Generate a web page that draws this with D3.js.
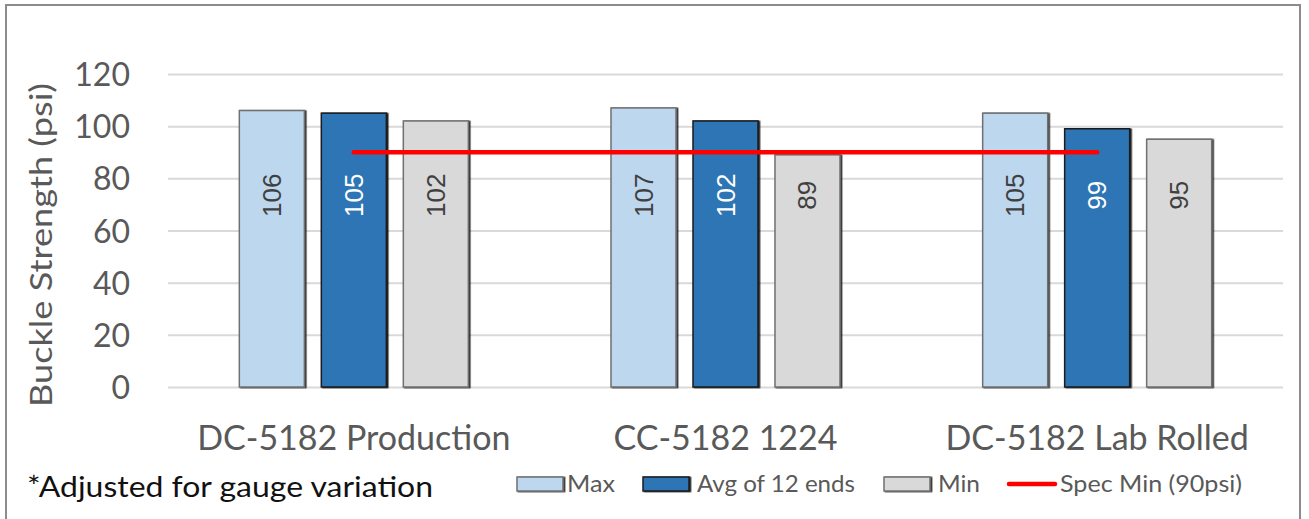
<!DOCTYPE html>
<html>
<head>
<meta charset="utf-8">
<script src="https://cdn.jsdelivr.net/npm/d3@7"></script>
<style>
  body { margin: 0; background: #fff; }
  svg text { font-family: Lato, "Open Sans", sans-serif; }
</style>
</head>
<body>
<svg id="chart" width="1309" height="519"></svg>
<script>
// chart data
const categories = ["DC-5182 Production", "CC-5182 1224", "DC-5182 Lab Rolled"];
const seriesNames = ["Max", "Avg of 12 ends", "Min"];
const maxValues = [106, 107, 105];
const avgValues = [105, 102, 99];
const minValues = [102, 89, 95];
const specMin = 90;
const specLabel = "Spec Min (90psi)";
const yTicks = [0, 20, 40, 60, 80, 100, 120];

const svg = d3.select("#chart");
const width = 1309, height = 519;
const margin = { top: 74, right: 26, bottom: 132, left: 168 };

// colors per series
const fills = ["#bdd7ee", "#2e75b6", "#d9d9d9"];
const strokes = ["#6f6f6f", "#1a1a1a", "#6f6f6f"];
const labelColors = ["#404040", "#ffffff", "#404040"];

// drop shadow used on the bars
const defs = svg.append("defs");
const filt = defs.append("filter").attr("id", "shadow")
    .attr("x", "-10%").attr("y", "-10%").attr("width", "130%").attr("height", "130%");
filt.append("feDropShadow").attr("dx", 1.5).attr("dy", 0.5)
    .attr("stdDeviation", 0.4).attr("flood-color", "#000").attr("flood-opacity", 0.85);

// outer border
svg.append("rect")
    .attr("x", 6).attr("y", 5).attr("width", 1294).attr("height", 540)
    .attr("fill", "none").attr("stroke", "#8c8c8c").attr("stroke-width", 2);

const x0 = d3.scaleBand().domain(categories).range([margin.left, width - margin.right]);
const x1 = d3.scaleBand().domain(seriesNames).range([0, x0.bandwidth()])
    .paddingInner(0.207).paddingOuter(0.87);
const y = d3.scaleLinear().domain([0, 120]).range([height - margin.bottom, margin.top]);

// gridlines + y axis labels
const yAxis = svg.append("g")
    .attr("transform", `translate(${margin.left},0)`)
    .call(d3.axisLeft(y).tickValues(yTicks).tickSize(-(width - margin.left - margin.right)).tickPadding(38));
yAxis.select(".domain").remove();
yAxis.selectAll(".tick line").attr("stroke", "#d9d9d9").attr("stroke-width", 2);
yAxis.selectAll(".tick text")
    .attr("fill", "#595959").attr("font-size", 32).attr("dy", "0.36em")
    .style("font-family", "Lato, sans-serif");

// y axis title
svg.append("text")
    .attr("transform", `translate(52,${245}) rotate(-90)`)
    .attr("text-anchor", "middle")
    .attr("fill", "#595959").attr("font-size", 30)
    .attr("textLength", 324).attr("lengthAdjust", "spacingAndGlyphs")
    .text("Buckle Strength (psi)");

// category labels
svg.selectAll(".cat")
    .data(categories)
    .join("text")
    .attr("class", "cat")
    .attr("x", d => x0(d) + x0.bandwidth() / 2)
    .attr("y", 450)
    .attr("text-anchor", "middle")
    .attr("fill", "#595959").attr("font-size", 34)
    .text(d => d);

// bars
const table = categories.map((c, i) => ({
    cat: c,
    vals: [maxValues[i], avgValues[i], minValues[i]]
}));

const groups = svg.selectAll(".grp")
    .data(table)
    .join("g")
    .attr("class", "grp")
    .attr("transform", d => `translate(${x0(d.cat)},0)`);

groups.selectAll("rect")
    .data(d => d.vals.map((v, j) => ({ s: seriesNames[j], j: j, v: v })))
    .join("rect")
    .attr("x", d => x1(d.s))
    .attr("y", d => y(d.v))
    .attr("width", x1.bandwidth())
    .attr("height", d => y(0) - y(d.v))
    .attr("fill", d => fills[d.j])
    .attr("stroke", d => strokes[d.j])
    .attr("stroke-width", 1.5)
    .attr("filter", "url(#shadow)");

// value labels, rotated, inside bars
groups.selectAll(".val")
    .data(d => d.vals.map((v, j) => ({ s: seriesNames[j], j: j, v: v })))
    .join("text")
    .attr("class", "val")
    .attr("transform", d => `translate(${x1(d.s) + x1.bandwidth() / 2 + 9},${y(73.5)}) rotate(-90)`)
    .attr("text-anchor", "middle")
    .attr("fill", d => labelColors[d.j])
    .attr("font-size", 26)
    .style("font-family", "'Liberation Sans', Arial, sans-serif")
    .text(d => d.v);

// spec min line from first avg bar center to last avg bar center
const avgName = seriesNames[1];
const xStart = x0(categories[0]) + x1(avgName) + x1.bandwidth() / 2;
const xEnd = x0(categories[categories.length - 1]) + x1(avgName) + x1.bandwidth() / 2;
svg.append("line")
    .attr("x1", xStart).attr("x2", xEnd)
    .attr("y1", y(specMin)).attr("y2", y(specMin))
    .attr("stroke", "#ff0000").attr("stroke-width", 4.5)
    .attr("stroke-linecap", "round");

// footnote
svg.append("text")
    .attr("x", 27).attr("y", 497)
    .attr("fill", "#111").attr("font-size", 29)
    .attr("textLength", 406).attr("lengthAdjust", "spacingAndGlyphs")
    .text("*Adjusted for gauge variation");

// legend
const legendItems = [
    { type: "box", j: 0, name: seriesNames[0], sx: 517, tx: 567, tw: 48 },
    { type: "box", j: 1, name: seriesNames[1], sx: 643, tx: 697, tw: 158 },
    { type: "box", j: 2, name: seriesNames[2], sx: 884, tx: 938, tw: 42 },
    { type: "line", name: specLabel, sx: 1007, tx: 1060, tw: 182 }
];
const legend = svg.append("g");
legendItems.forEach(d => {
    if (d.type === "box") {
        legend.append("rect")
            .attr("x", d.sx).attr("y", 477).attr("width", 46).attr("height", 14)
            .attr("fill", fills[d.j]).attr("stroke", strokes[d.j]).attr("stroke-width", 1.5)
            .attr("filter", "url(#shadow)");
    } else {
        legend.append("line")
            .attr("x1", d.sx + 2).attr("x2", d.sx + 48)
            .attr("y1", 484).attr("y2", 484)
            .attr("stroke", "#ff0000").attr("stroke-width", 4.5).attr("stroke-linecap", "round");
    }
    legend.append("text")
        .attr("x", d.tx).attr("y", 492)
        .attr("fill", "#595959").attr("font-size", 23)
        .attr("textLength", d.tw).attr("lengthAdjust", "spacingAndGlyphs")
        .text(d.name);
});
</script>
</body>
</html>
